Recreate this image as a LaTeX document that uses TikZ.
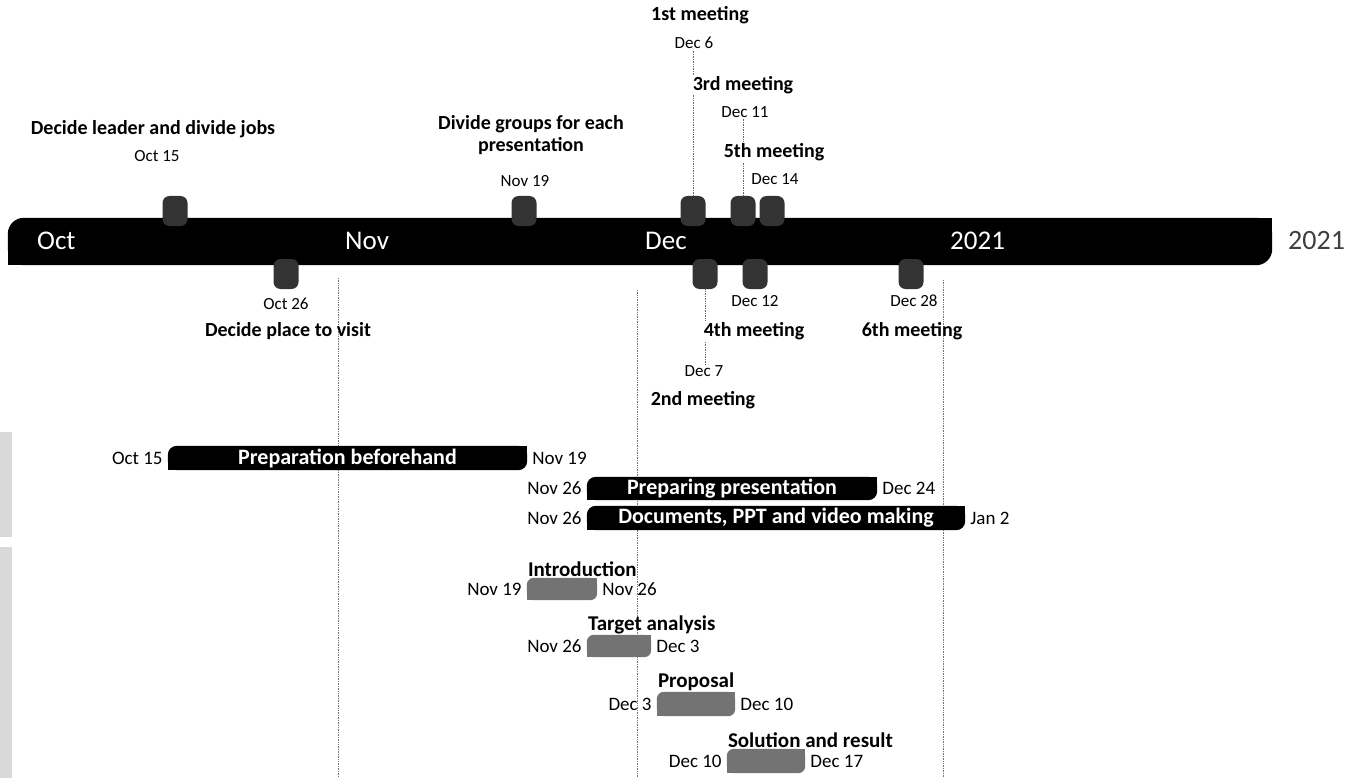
\documentclass[tikz,border=0pt]{standalone}
\usepackage{fontspec}
\setmainfont{Carlito}
\usetikzlibrary{positioning,backgrounds}

\tikzset{
  axisbar/.style={minimum width=1264pt, minimum height=47pt, inner sep=0pt},
  month/.style={text=white, font=\fontsize{27}{30}\selectfont, anchor=west, inner sep=0pt},
  mstone/.style={fill=black!80, minimum width=25pt, minimum height=30pt, inner sep=0pt, rounded corners=7pt},
  event/.style={font=\bfseries\fontsize{20}{22}\selectfont, align=center, inner sep=1pt},
  mask/.style={fill=white},
  mdate/.style={font=\fontsize{17}{19}\selectfont, inner sep=1pt},
  tdate/.style={font=\fontsize{19}{21}\selectfont, inner sep=1pt},
  taskbar/.style={text=white, font=\bfseries\fontsize{22}{24}\selectfont, inner sep=0pt, minimum height=24pt},
  subbar/.style={inner sep=0pt, minimum height=22pt},
  subtitle/.style={font=\bfseries\fontsize{21}{23}\selectfont, anchor=south west, inner sep=1pt},
  guide/.style={black!55, densely dotted, line width=0.7pt},
  link/.style={black!60, densely dotted, line width=0.7pt},
}

% fill behind a node, round top left and bottom right only
\newcommand{\barshape}[3]{%
  \fill[#2, rounded corners=#3] (#1.north west) rectangle (#1.south east);
  \fill[#2] (#1.west) rectangle (#1.south);
  \fill[#2] (#1.north) rectangle (#1.east);}

\begin{document}
\begin{tikzpicture}[x=1pt, y=-1pt]
\useasboundingbox (0,0) rectangle (1362,778);

% timeline
\node[axisbar] (axis) at (640,241.5) {};
\node[month] (oct) at (37,241) {Oct};
\node[month] (nov) at (345,241) {Nov};
\node[month] (dec) at (645,241) {Dec};
\node[month] (jan) at (950,241) {2021};
\node[month, text=black!75, font=\fontsize{28}{30}\selectfont] (year) at (1288,241) {2021};

% milestones
\node[mstone] (m1) at (175,211) {};
\node[mstone] (m2) at (524,211) {};
\node[mstone] (m3) at (693,211) {};
\node[mstone] (m4) at (743,211) {};
\node[mstone] (m5) at (772,211) {};
\node[mstone] (m6) at (286,274) {};
\node[mstone] (m7) at (705,274) {};
\node[mstone] (m8) at (755,274) {};
\node[mstone] (m9) at (911,274) {};

% labels above
\node[event] (e1) at (153,129) {Decide leader and divide jobs};
\node[mdate] (d1) at (157,156) {Oct 15};
\node[event] (e2) at (531,135) {Divide groups for each\\presentation};
\node[mdate] (d2) at (525,181) {Nov 19};
\node[event] (e3) at (700,15) {1st meeting};
\node[mdate] (d3) at (694,43) {Dec 6};
\node[event, mask] (e4) at (743,85) {3rd meeting};
\node[mdate] (d4) at (745,112) {Dec 11};
\node[event, mask] (e5) at (774,152) {5th meeting};
\node[mdate] (d5) at (775,179) {Dec 14};

% labels below
\node[mdate] (d6) at (286,304) {Oct 26};
\node[event] (e6) at (288,331) {Decide place to visit};
\node[mdate] (d8) at (755,301) {Dec 12};
\node[event, mask] (e8) at (754,331) {4th meeting};
\node[mdate] (d7) at (704,371) {Dec 7};
\node[event] (e7) at (703,400) {2nd meeting};
\node[mdate] (d9) at (914,301) {Dec 28};
\node[event] (e9) at (912,331) {6th meeting};

% tasks
\node[taskbar, minimum width=359pt] (prep) at (347.5,458) {Preparation beforehand};
\node[tdate, left=4pt of prep] (prep-a) {Oct 15};
\node[tdate, right=4pt of prep] (prep-b) {Nov 19};
\node[taskbar, minimum width=290pt, minimum height=23pt] (pres) at (732,488.5) {Preparing presentation};
\node[tdate, left=4pt of pres] (pres-a) {Nov 26};
\node[tdate, right=4pt of pres] (pres-b) {Dec 24};
\node[taskbar, minimum width=378pt] (docs) at (776,518) {Documents, PPT and video making};
\node[tdate, left=4pt of docs] (docs-a) {Nov 26};
\node[tdate, right=4pt of docs] (docs-b) {Jan 2};

% sub tasks
\node[subbar, minimum width=70pt] (intro) at (562,589) {};
\node[subtitle] (intro-t) at (intro.north west) {Introduction};
\node[tdate, left=4pt of intro] (intro-a) {Nov 19};
\node[tdate, right=4pt of intro] (intro-b) {Nov 26};
\node[subbar, minimum width=64pt] (target) at (619,646) {};
\node[subtitle] (target-t) at (target.north west) {Target analysis};
\node[tdate, left=4pt of target] (target-a) {Nov 26};
\node[tdate, right=4pt of target] (target-b) {Dec 3};
\node[subbar, minimum width=78pt, minimum height=24pt] (prop) at (696,704) {};
\node[subtitle] (prop-t) at (prop.north west) {Proposal};
\node[tdate, left=4pt of prop] (prop-a) {Dec 3};
\node[tdate, right=4pt of prop] (prop-b) {Dec 10};
\node[subbar, minimum width=78pt, minimum height=24pt] (sol) at (766,761) {};
\node[subtitle] (sol-t) at (sol.north west) {Solution and result};
\node[tdate, left=4pt of sol] (sol-a) {Dec 10};
\node[tdate, right=4pt of sol] (sol-b) {Dec 17};

\begin{scope}[on background layer]
  \fill[black!15] (0,432) rectangle (12,537);
  \fill[black!15] (0,547) rectangle (12,778);
  \foreach \gx/\gy in {338/278, 637/290, 943/280} {
    \coordinate (gt\gx) at (\gx,\gy);
    \coordinate (gb\gx) at (\gx,778);
    \draw[guide] (gt\gx) -- (gb\gx);
  }
  \draw[link] (m3.north) -- (m3.north |- d3.south);
  \draw[link] (m4.north) -- (m4.north |- d4.south);
  \draw[link] (m7.south) -- (m7.south |- d7.north);
  \barshape{axis}{black}{16pt}
  \barshape{prep}{black}{9pt}
  \barshape{pres}{black}{9pt}
  \barshape{docs}{black}{9pt}
  \barshape{intro}{black!55}{7pt}
  \barshape{target}{black!55}{7pt}
  \barshape{prop}{black!55}{7pt}
  \barshape{sol}{black!55}{7pt}
\end{scope}
\end{tikzpicture}
\end{document}
